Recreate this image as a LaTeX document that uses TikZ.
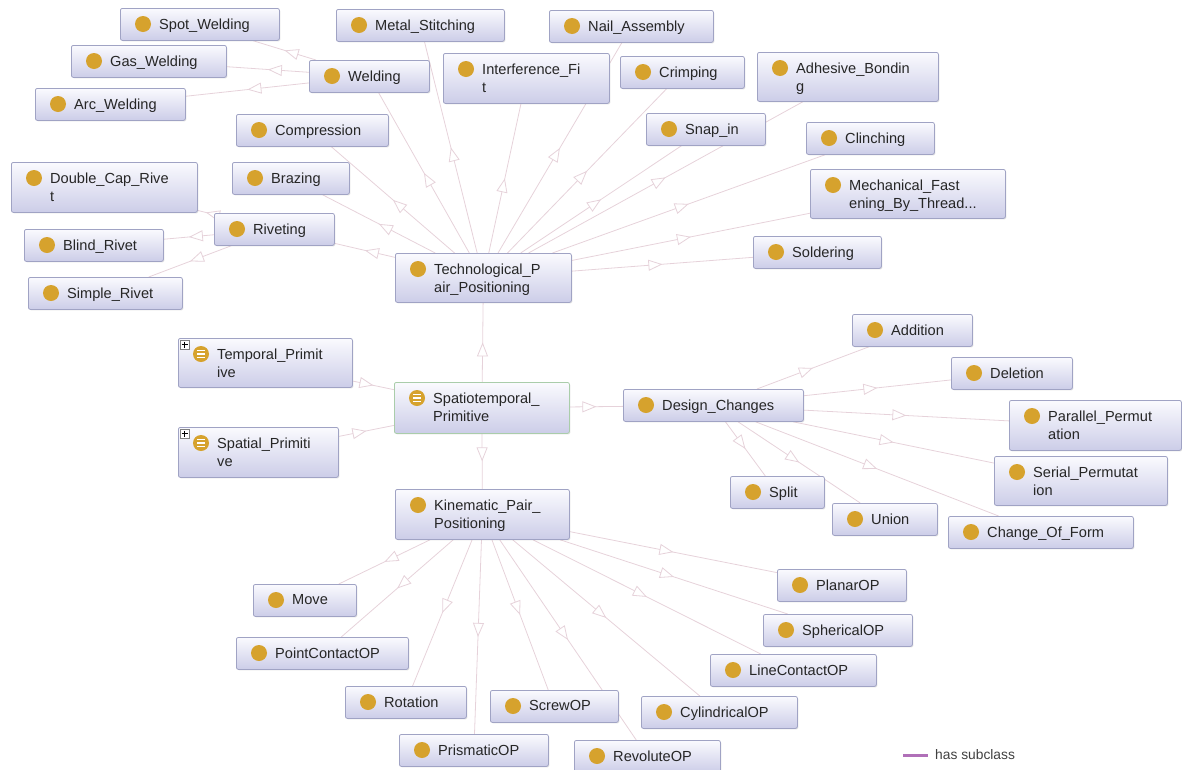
\documentclass[tikz,border=0pt]{standalone}
\usepackage{fontspec}
\setmainfont{Liberation Sans}
\usetikzlibrary{arrows.meta,decorations.markings,backgrounds,shadows}
\definecolor{clsdot}{RGB}{214,162,45}
\definecolor{clsline}{RGB}{160,163,196}
\definecolor{clstop}{RGB}{250,250,254}
\definecolor{clsbot}{RGB}{204,205,232}
\definecolor{subline}{RGB}{230,210,218}
\definecolor{legendc}{RGB}{176,112,184}
\definecolor{selline}{RGB}{170,205,170}

\tikzset{
 clsbox/.style={draw=clsline, rounded corners=2pt, top color=clstop, bottom color=clsbot,
   inner sep=0pt, anchor=north west, line width=0.8pt,
   drop shadow={shadow xshift=1pt, shadow yshift=-1pt, opacity=0.2}},
 clstext/.style={anchor=north west, inner sep=0pt, align=left, text=black!85,
   font=\fontsize{14.6}{18}\selectfont},
 subedge/.style={draw=subline, line width=0.8pt,
   decoration={markings, mark=at position 0.5 with
     {\arrow{Triangle[length=14pt,width=11pt,fill=white]}}},
   postaction={decorate}},
}

% box, dot and text of one class
\newcommand\ontoclass[7][]{%
 \node[clsbox,minimum width=#5pt,minimum height=#6pt,#1] (#2) at (#3,#4) {};
 \fill[clsdot] ([shift={(23,16)}]#2.north west) circle[radius=8pt];
 \node[clstext] at ([shift={(39,10.5)}]#2.north west) {#7};
}
% defined-class mark and expand box
\newcommand\ontoequiv[1]{%
 \foreach \dy in {12.5,16,19.5}
   \draw[white,line width=1.3pt] ([shift={(19,\dy)}]#1.north west) -- ++(8,0);
}
\newcommand\ontoplus[1]{%
 \draw[gray,fill=white,line width=0.5pt] ([shift={(2,2)}]#1.north west) rectangle ++(9,9);
 \draw[black,line width=0.9pt] ([shift={(3.5,6.5)}]#1.north west) -- ++(6,0)
   ([shift={(6.5,3.5)}]#1.north west) -- ++(0,6);
}

\begin{document}
\begin{tikzpicture}[x=1pt,y=-1pt]
\useasboundingbox (0,0) rectangle (1182,769);

% top row
\ontoclass{spot}{120}{8}{159}{32}{Spot\_Welding}
\ontoclass{metal}{336}{9}{168}{32}{Metal\_Stitching}
\ontoclass{nail}{549}{10}{164}{32}{Nail\_Assembly}
\ontoclass{gas}{71}{45}{155}{32}{Gas\_Welding}
\ontoclass{welding}{309}{60}{120}{32}{Welding}
\ontoclass{interf}{443}{53}{166}{50}{Interference\_Fi\\t}
\ontoclass{crimp}{620}{56}{124}{32}{Crimping}
\ontoclass{adhes}{757}{52}{181}{49}{Adhesive\_Bondin\\g}
\ontoclass{arc}{35}{88}{150}{32}{Arc\_Welding}
\ontoclass{compr}{236}{114}{152}{32}{Compression}
\ontoclass{snap}{646}{113}{119}{32}{Snap\_in}
\ontoclass{clinch}{806}{122}{128}{32}{Clinching}
\ontoclass{dblcap}{11}{162}{186}{50}{Double\_Cap\_Rive\\t}
\ontoclass{brazing}{232}{162}{117}{32}{Brazing}
\ontoclass{mechf}{810}{169}{195}{49}{Mechanical\_Fast\\ening\_By\_Thread...}
\ontoclass{riveting}{214}{213}{120}{32}{Riveting}
\ontoclass{blind}{24}{229}{139}{32}{Blind\_Rivet}
\ontoclass{solder}{753}{236}{128}{32}{Soldering}
\ontoclass{techno}{395}{253}{176}{49}{Technological\_P\\air\_Positioning}
\ontoclass{simple}{28}{277}{154}{32}{Simple\_Rivet}

% middle
\ontoclass{temporal}{178}{338}{174}{49}{Temporal\_Primit\\ive}
\ontoclass[draw=selline]{spatio}{394}{382}{175}{51}{Spatiotemporal\_\\Primitive}
\ontoclass{spatial}{178}{427}{160}{50}{Spatial\_Primiti\\ve}
\ontoequiv{temporal}
\ontoequiv{spatio}
\ontoequiv{spatial}
\ontoplus{temporal}
\ontoplus{spatial}
\ontoclass{design}{623}{389}{180}{32}{Design\_Changes}
\ontoclass{addition}{852}{314}{120}{32}{Addition}
\ontoclass{deletion}{951}{357}{121}{32}{Deletion}
\ontoclass{parallel}{1009}{400}{172}{50}{Parallel\_Permut\\ation}
\ontoclass{serial}{994}{456}{173}{49}{Serial\_Permutat\\ion}
\ontoclass{split}{730}{476}{94}{32}{Split}
\ontoclass{union}{832}{503}{105}{32}{Union}
\ontoclass{change}{948}{516}{185}{32}{Change\_Of\_Form}

% bottom
\ontoclass{kinem}{395}{489}{174}{50}{Kinematic\_Pair\_\\Positioning}
\ontoclass{planar}{777}{569}{129}{32}{PlanarOP}
\ontoclass{move}{253}{584}{103}{32}{Move}
\ontoclass{spher}{763}{614}{149}{32}{SphericalOP}
\ontoclass{pointc}{236}{637}{172}{32}{PointContactOP}
\ontoclass{linec}{710}{654}{166}{32}{LineContactOP}
\ontoclass{rotation}{345}{686}{121}{32}{Rotation}
\ontoclass{screw}{490}{690}{128}{32}{ScrewOP}
\ontoclass{cylin}{641}{696}{156}{32}{CylindricalOP}
\ontoclass{prism}{399}{734}{149}{32}{PrismaticOP}
\ontoclass{revol}{574}{740}{146}{32}{RevoluteOP}

% subclass edges
\begin{scope}[on background layer]
\foreach \c in {spot,gas,arc} \draw[subedge] (welding) -- (\c);
\foreach \c in {dblcap,blind,simple} \draw[subedge] (riveting) -- (\c);
\foreach \c in {welding,metal,nail,interf,crimp,adhes,compr,snap,clinch,brazing,mechf,riveting,solder}
  \draw[subedge] (techno) -- (\c);
\foreach \c in {techno,design,kinem} \draw[subedge] (spatio) -- (\c);
\foreach \c in {temporal,spatial} \draw[subedge] (\c) -- (spatio);
\foreach \c in {addition,deletion,parallel,serial,split,union,change}
  \draw[subedge] (design) -- (\c);
\foreach \c in {move,pointc,rotation,prism,screw,revol,cylin,linec,spher,planar}
  \draw[subedge] (kinem) -- (\c);
\end{scope}

% legend
\coordinate (legA) at (903,755);
\coordinate (legB) at (928,755);
\draw[legendc,line width=3pt] (legA) -- (legB);
\node[anchor=west,inner sep=0pt,text=black!75,font=\fontsize{13.8}{16}\selectfont] (legend) at (935,755) {has subclass};
\end{tikzpicture}
\end{document}
